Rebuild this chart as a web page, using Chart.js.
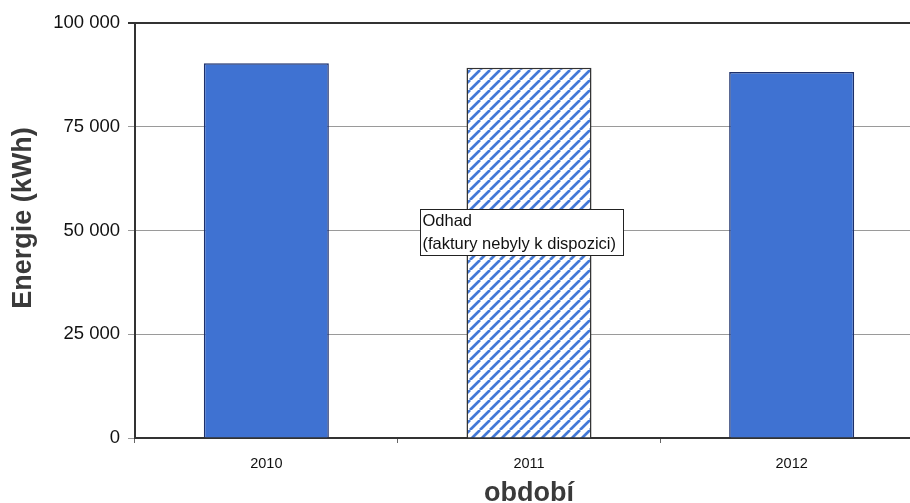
<!DOCTYPE html>
<html>
<head>
<meta charset="utf-8">
<script src="https://cdn.jsdelivr.net/npm/chart.js@4/dist/chart.umd.min.js"></script>
<style>
  html, body { margin: 0; padding: 0; background: #fff; overflow: hidden; }
  #wrap { position: relative; width: 923px; height: 503px; }
</style>
</head>
<body>
<div id="wrap"><canvas id="c"></canvas></div>
<script>
// Annual energy consumption; 2011 is an estimate (hatched bar)
const categories = ['2010', '2011', '2012'];
const energyKWh = [90300, 89200, 88200];
const estimated = [false, true, false];
const yTicks = [0, 25000, 50000, 75000, 100000];
const noteLines = ['Odhad', '(faktury nebyly k dispozici)'];
const yTitle = 'Energie (kWh)';
const xTitle = 'období';

const BLUE = '#3f72d2';
const FONT = '"Liberation Sans", Arial, sans-serif';

// diagonal "/" stripes on white
function hatchPattern() {
  const s = 10;
  const p = document.createElement('canvas');
  p.width = s; p.height = s;
  const g = p.getContext('2d');
  g.fillStyle = '#fff';
  g.fillRect(0, 0, s, s);
  g.strokeStyle = '#4479d6';
  g.lineWidth = 2.7;
  g.beginPath();
  for (let k = -1; k <= 1; k++) {
    g.moveTo(k * s, s);
    g.lineTo(k * s + s, 0);
  }
  g.stroke();
  return g.createPattern(p, 'repeat');
}
const hatch = hatchPattern();

const fmt = v => String(v).replace(/\B(?=(\d{3})+(?!\d))/g, ' ');

// text box over the estimated bar, plus the rotated value-axis title
const notePlugin = {
  id: 'note',
  afterDatasetsDraw(chart) {
    const { ctx, scales } = chart;
    const cx = scales.x.getPixelForValue(1) - 8;
    const top = Math.round(scales.y.getPixelForValue(55200)) + 0.5;
    const bottom = Math.round(scales.y.getPixelForValue(44100)) + 0.5;
    ctx.save();
    ctx.font = '16.5px ' + FONT;
    const w = Math.round(Math.max(...noteLines.map(t => ctx.measureText(t).width)) + 10);
    const left = Math.round(cx - w / 2) + 0.5;
    ctx.fillStyle = '#fff';
    ctx.fillRect(left, top, w, bottom - top);
    ctx.strokeStyle = '#222';
    ctx.lineWidth = 1;
    ctx.strokeRect(left, top, w, bottom - top);
    ctx.fillStyle = '#111';
    ctx.textBaseline = 'middle';
    const lh = (bottom - top) / 2;
    noteLines.forEach((t, i) => ctx.fillText(t, left + 2, top + lh * (i + 0.5) + 0.5));
    ctx.restore();

    ctx.save();
    ctx.translate(24, scales.y.getPixelForValue(53000));
    ctx.rotate(-Math.PI / 2);
    ctx.font = 'bold 27px ' + FONT;
    ctx.fillStyle = '#3a3a3a';
    ctx.textAlign = 'center';
    ctx.textBaseline = 'middle';
    ctx.fillText(yTitle, 0, 0);
    ctx.restore();
  }
};

new Chart(document.getElementById('c'), {
  type: 'bar',
  data: {
    labels: categories,
    datasets: [{
      data: energyKWh,
      backgroundColor: estimated.map(e => e ? hatch : BLUE),
      borderColor: estimated.map(e => e ? '#333' : '#1c2f6a'),
      borderWidth: 1.5,
      borderSkipped: 'bottom',
      barPercentage: 1,
      categoryPercentage: 0.476
    }]
  },
  options: {
    responsive: true,
    maintainAspectRatio: false,
    animation: false,
    layout: { padding: { top: 23, left: 0, right: 0, bottom: 0 } },
    plugins: { legend: { display: false }, tooltip: { enabled: false } },
    scales: {
      x: {
        afterFit: s => { s.height = 65; },
        grid: { offset: true, drawOnChartArea: false, tickLength: 5, color: '#666' },
        border: { color: '#333', width: 2 },
        ticks: { color: '#111', font: { family: FONT, size: 14.5 }, padding: 12 },
        title: {
          display: true, text: xTitle, color: '#3a3a3a',
          font: { family: FONT, size: 27, weight: 'bold', lineHeight: 1 },
          padding: { top: 0, bottom: -4 }
        }
      },
      y: {
        min: 0, max: 100000,
        afterFit: s => { s.width = 135; },
        afterBuildTicks: s => { s.ticks = yTicks.map(v => ({ value: v })); },
        grid: {
          tickLength: 7,
          color: c => c.tick && c.tick.value === 100000 ? '#333' : '#9a9a9a',
          lineWidth: c => c.tick && c.tick.value === 100000 ? 2 : 1
        },
        border: { color: '#333', width: 2 },
        ticks: {
          color: '#111', padding: 8,
          font: { family: FONT, size: 18.5 },
          callback: v => fmt(v)
        },
        title: { display: false }
      }
    }
  },
  plugins: [notePlugin]
});
</script>
</body>
</html>
